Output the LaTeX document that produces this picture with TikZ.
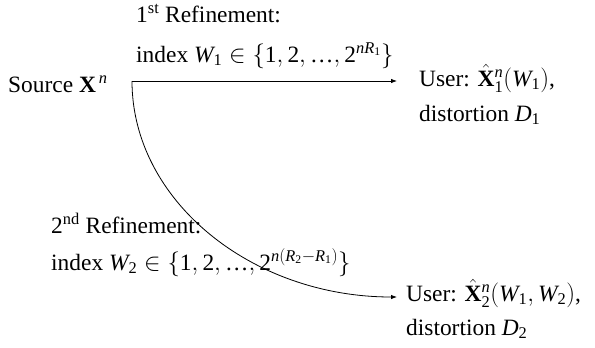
\documentclass[tikz,border=0pt]{standalone}
\usepackage{amsmath}
\usepackage{mathspec}
\setmainfont{Liberation Serif}
\setmathsfont(Digits,Latin)[Numbers={Lining,Proportional}]{Liberation Serif}
\setmathrm{Liberation Serif}
\usetikzlibrary{arrows.meta, positioning}

\begin{document}
\begin{tikzpicture}[x=1bp, y=-1bp,
            font=\fontsize{23.5}{28}\selectfont,
            lbl/.style={anchor=base west, inner sep=0pt},
            arr/.style={-{Latex[length=6bp, width=4.5bp]}, line width=0.8bp}]
            \useasboundingbox (0,0) rectangle (595,347);
            % source and refinement labels
            \node[lbl] (src)  at (8,92)    {Source $\mathbf{X}^{\,n}$};
            \node[lbl] (ref1) at (136,22)  {$1^{\text{st}}$ Refinement:};
            \node[lbl] (idx1) at (136,62)  {index $W_1\in\{1,2,\text{…},2^{nR_1}\}$};
            \node[lbl] (ref2) at (51,233)  {$2^{\text{nd}}$ Refinement:};
            \node[lbl] (idx2) at (51,270)  {index $W_2\in\{1,2,\text{…},2^{n(R_2-R_1)}\}$};
            % users
            \node[lbl] (usr1)  at (419,86)  {User: $\hat{\mathbf{X}}_1^n(W_1)$,};
            \node[lbl] (dist1) at (419,121) {distortion $D_1$};
            \node[lbl] (usr2)  at (406,301) {User: $\hat{\mathbf{X}}_2^n(W_1,W_2)$,};
            \node[lbl] (dist2) at (406,335) {distortion $D_2$};
            % connectors
            \coordinate (s)  at (132,81);
            \coordinate (t1) at (397,81);
            \coordinate (t2) at (397,297);
            \draw[arr] (s) -- (t1);
            \draw[arr] (s) .. controls +(0,119) and +(-146,0) .. (t2);
        \end{tikzpicture}
\end{document}
